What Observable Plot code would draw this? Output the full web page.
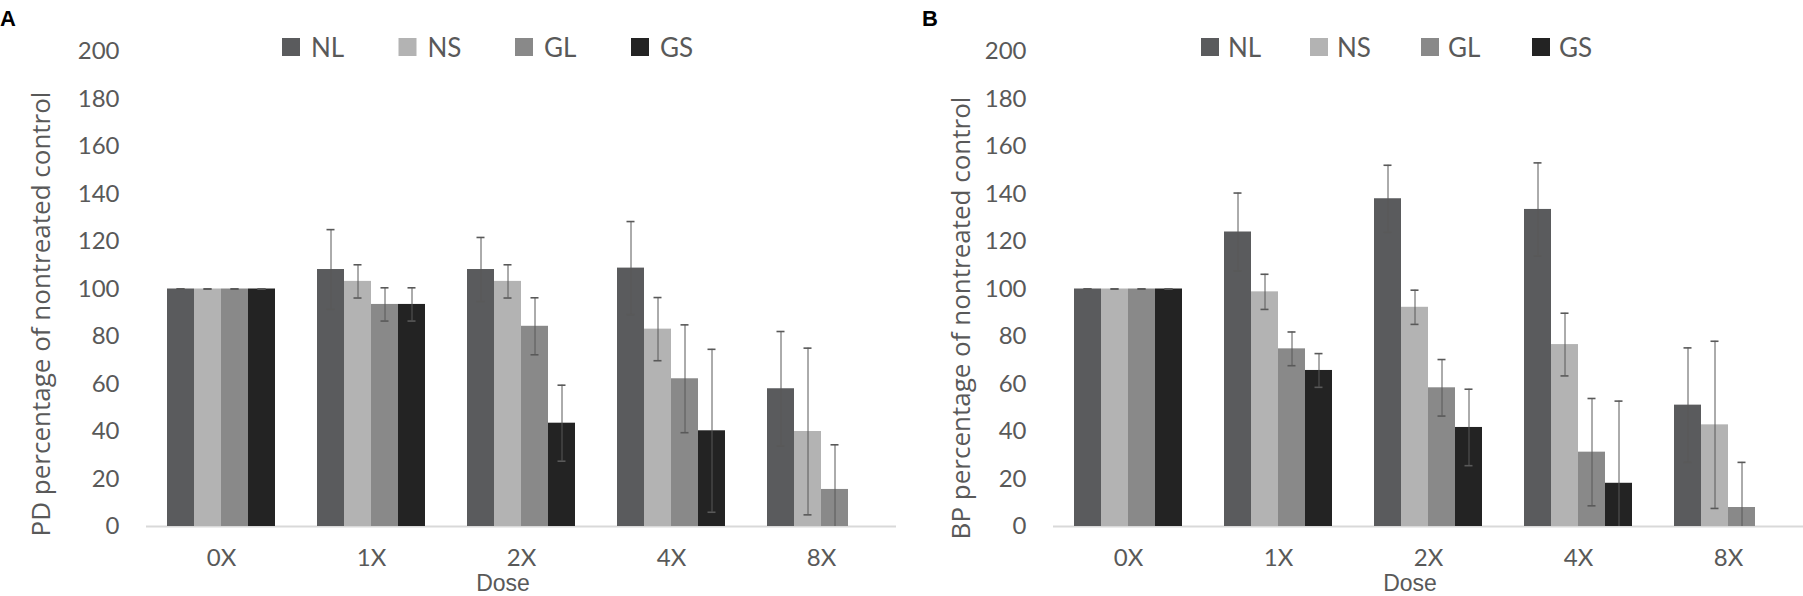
<!DOCTYPE html>
<html><head><meta charset="utf-8">
<script src="https://cdn.jsdelivr.net/npm/d3@7"></script>
<script src="https://cdn.jsdelivr.net/npm/@observablehq/plot@0.6"></script>
<style>
body{margin:0;background:#fff;}
#wrap{position:relative;width:1803px;height:596px;overflow:hidden;background:#fff}
</style></head><body><div id="wrap"></div>
<script>
const doses = ["0X", "1X", "2X", "4X", "8X"];
const seriesNames = ["NL", "NS", "GL", "GS"];
const seriesColors = ["#5a5b5d", "#b3b3b3", "#898989", "#232323"];
const yTicks = [0, 20, 40, 60, 80, 100, 120, 140, 160, 180, 200];

// Panel A: PD percentage of nontreated control
const pdNL = [100, 108.2, 108.2, 108.8, 58.0];
const pdNS = [100, 103.2, 103.2, 83.1, 40.0];
const pdGL = [100, 93.5, 84.3, 62.2, 15.6];
const pdGS = [100, 93.5, 43.5, 40.3, null];
const pdNLerr = [0, 16.8, 13.5, 19.6, 24.1];
const pdNSerr = [0, 7.0, 7.0, 13.3, 35.1];
const pdGLerr = [0, 7.0, 12.0, 22.7, 18.8];
const pdGSerr = [0, 7.0, 16.0, 34.3, null];

// Panel B: BP percentage of nontreated control
const bpNL = [100, 124.0, 138.0, 133.5, 51.1];
const bpNS = [100, 98.8, 92.3, 76.6, 42.8];
const bpGL = [100, 74.8, 58.4, 31.3, 8.0];
const bpGS = [100, 65.7, 41.7, 18.2, null];
const bpNLerr = [0, 16.4, 14.1, 19.6, 24.1];
const bpNSerr = [0, 7.4, 7.2, 13.2, 35.2];
const bpGLerr = [0, 7.1, 11.9, 22.6, 19.0];
const bpGSerr = [0, 7.1, 16.1, 34.6, null];

function rows(means, errs) {
  const out = [];
  seriesNames.forEach((s, i) => doses.forEach((d, j) => {
    const v = means[i][j];
    if (v == null) return;
    out.push({dose: d, series: s, value: v, err: errs[i][j]});
  }));
  return out;
}

function panel(data, width, marginLeft) {
  const low = data.filter(d => d.value - d.err >= 0);
  return Plot.plot({
    width, height: 596,
    marginLeft, marginRight: width - marginLeft - 750, marginTop: 51, marginBottom: 70,
    style: {fontFamily: "Lato, sans-serif", fontSize: "24px", color: "#595959", background: "transparent", overflow: "visible"},
    fx: {domain: doses, paddingInner: 0, paddingOuter: 0, tickSize: 0, tickPadding: 22, label: null, axis: "bottom"},
    x: {domain: seriesNames, paddingInner: 0, paddingOuter: 0.727, axis: null},
    y: {domain: [0, 200], ticks: yTicks, tickSize: 0, tickPadding: 27, label: null},
    color: {domain: seriesNames, range: seriesColors},
    marks: [
      Plot.ruleY([0], {stroke: "#d9d9d9", strokeWidth: 2}),
      Plot.barY(data, {fx: "dose", x: "series", y: "value", fill: "series"}),
      Plot.ruleX(data, {fx: "dose", x: "series", y1: d => Math.max(0, d.value - d.err), y2: d => d.value + d.err, stroke: "#595959", strokeWidth: 1}),
      Plot.tickY(data, {fx: "dose", x: "series", y: d => d.value + d.err, stroke: "#595959", strokeWidth: 1.6, insetLeft: 9.5, insetRight: 9.5}),
      Plot.tickY(low, {fx: "dose", x: "series", y: d => d.value - d.err, stroke: "#595959", strokeWidth: 1.6, insetLeft: 9.5, insetRight: 9.5})
    ]
  });
}

const wrap = document.getElementById("wrap");
const pdData = rows([pdNL, pdNS, pdGL, pdGS], [pdNLerr, pdNSerr, pdGLerr, pdGSerr]);
const bpData = rows([bpNL, bpNS, bpGL, bpGS], [bpNLerr, bpNSerr, bpGLerr, bpGSerr]);

const a = panel(pdData, 900, 146);
a.style.position = "absolute"; a.style.left = "0px"; a.style.top = "0px";
wrap.appendChild(a);
const b = panel(bpData, 903, 153);
b.style.position = "absolute"; b.style.left = "900px"; b.style.top = "0px";
wrap.appendChild(b);

// Overlay: panel letters, legends, axis titles
const ov = d3.select(wrap).append("svg")
  .attr("width", 1803).attr("height", 596)
  .style("position", "absolute").style("left", "0px").style("top", "0px")
  .style("pointer-events", "none");

const panels = [
  {letter: "A", lx: 0, legendX: [282, 398.5, 515, 631], textGap: 29, title: "PD percentage of nontreated control", tx: 50, ty: 314, doseX: 503},
  {letter: "B", lx: 922, legendX: [1201, 1310, 1421, 1532], textGap: 27, title: "BP percentage of nontreated control", tx: 970, ty: 318, doseX: 1410}
];
panels.forEach(p => {
  ov.append("text").attr("x", p.lx).attr("y", 26).text(p.letter)
    .attr("font-family", "Liberation Sans, Arial, sans-serif").attr("font-weight", "bold").attr("font-size", 22).attr("fill", "#000");
  seriesNames.forEach((s, i) => {
    ov.append("rect").attr("x", p.legendX[i]).attr("y", 38).attr("width", 18).attr("height", 18).attr("fill", seriesColors[i]);
    ov.append("text").attr("x", p.legendX[i] + p.textGap).attr("y", 56.5).text(s)
      .attr("font-family", "Lato, sans-serif").attr("font-size", 26).attr("fill", "#595959");
  });
  ov.append("text").attr("transform", `translate(${p.tx},${p.ty}) rotate(-90)`).attr("text-anchor", "middle")
    .text(p.title).attr("font-family", "Open Sans, sans-serif").attr("font-size", 26).attr("fill", "#595959");
  ov.append("text").attr("x", p.doseX).attr("y", 591).attr("text-anchor", "middle").text("Dose")
    .attr("font-family", "Liberation Sans, Arial, sans-serif").attr("font-size", 23).attr("fill", "#595959");
});
</script></body></html>
